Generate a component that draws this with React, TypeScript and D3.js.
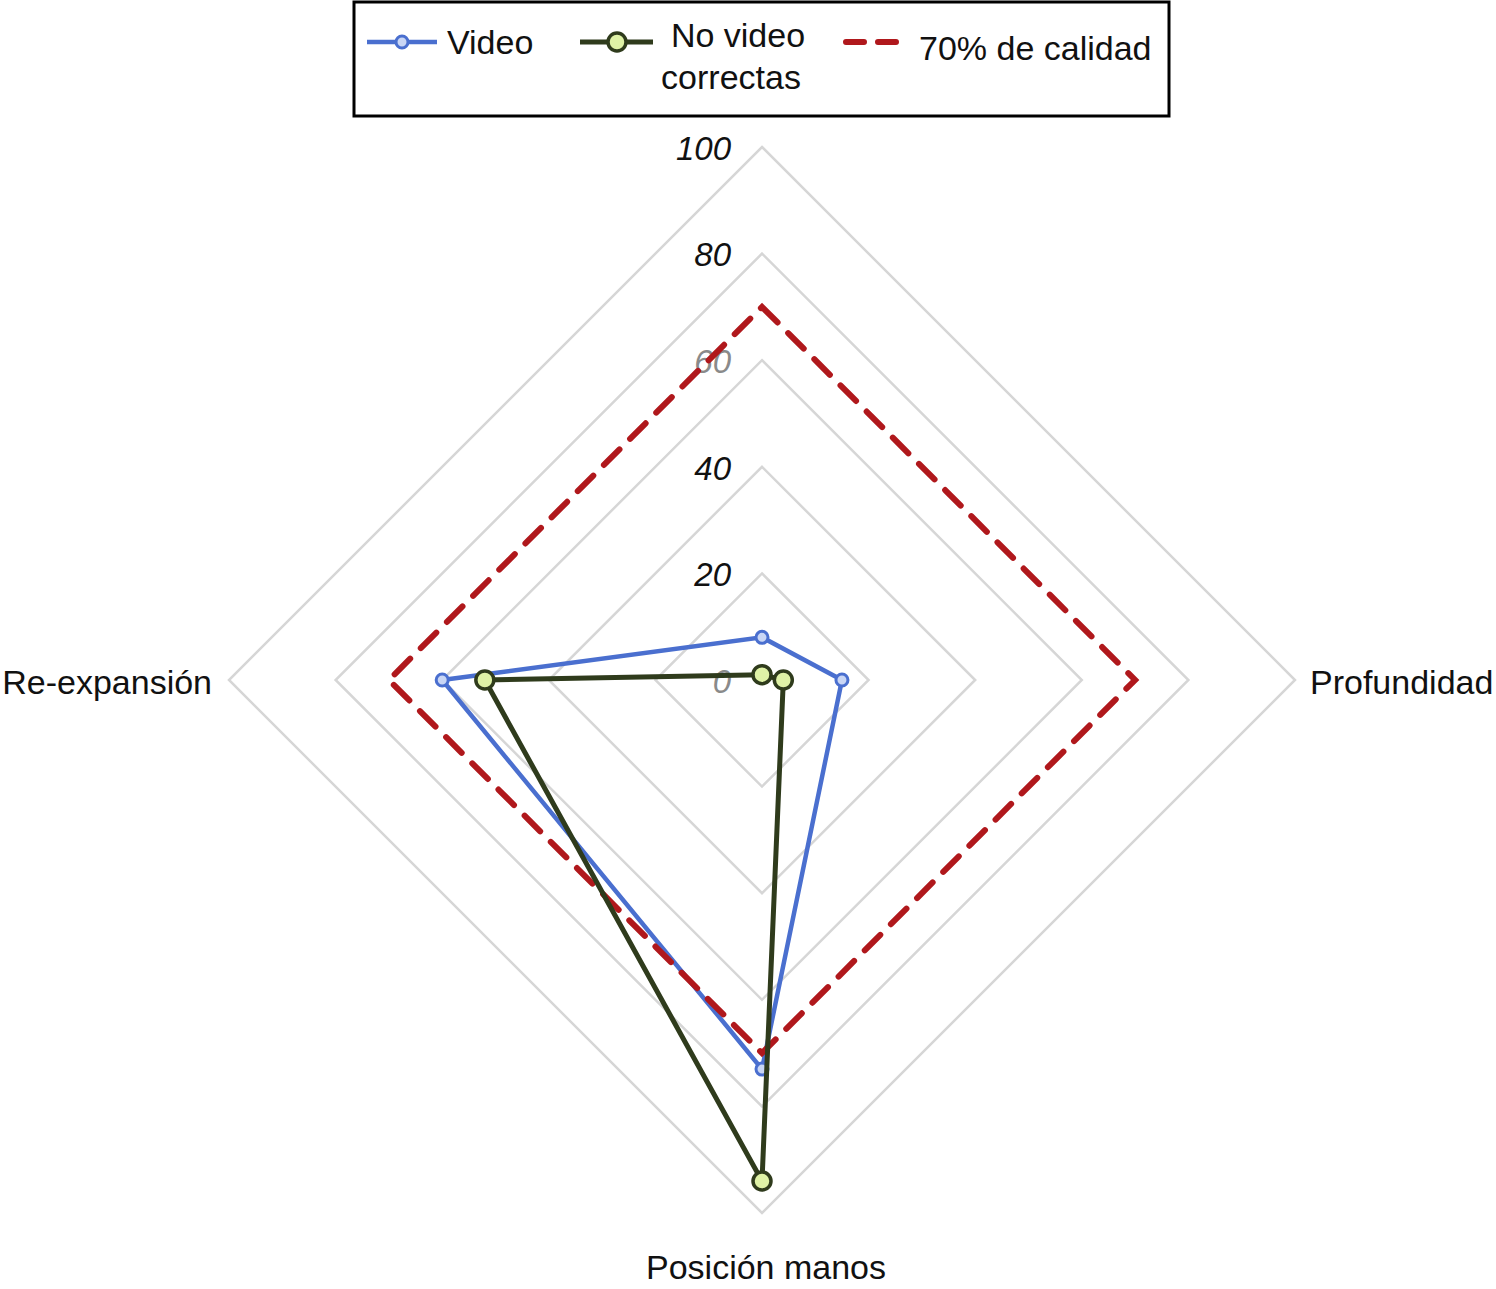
import * as d3 from 'd3';
import { useEffect, useRef } from 'react';

// axes clockwise from the top
const axes = ['', 'Profundidad', 'Posición manos', 'Re-expansión'];
const videoValues = [8, 15, 73, 60];
const noVideoValues = [1, 4, 94, 52];
const thresholdValues = [70, 70, 70, 70];
const levels = [20, 40, 60, 80, 100];
const tickLabels = [0, 20, 40, 60, 80, 100];

const W = 1496;
const H = 1289;
const cx = 762;
const cy = 680;
const R = 533;
const FONT = '"Liberation Sans", Arial, Helvetica, sans-serif';

const App = () => {
  const ref = useRef<SVGSVGElement | null>(null);

  useEffect(() => {
    if (!ref.current) return;
    const svg = d3.select(ref.current);
    svg.selectAll('*').remove();

    const r = d3.scaleLinear().domain([0, 100]).range([0, R]);
    const angle = (i: number) => (i / axes.length) * 2 * Math.PI;
    const pt = (v: number, i: number): [number, number] => [
      cx + r(v) * Math.sin(angle(i)),
      cy - r(v) * Math.cos(angle(i))
    ];
    const line = d3.line<[number, number]>().curve(d3.curveLinearClosed);

    const g = svg.append('g');

    // grid
    levels.forEach(l => {
      g.append('path')
        .attr('d', line(axes.map((_, i) => pt(l, i))))
        .attr('fill', 'none')
        .attr('stroke', '#d6d6d6')
        .attr('stroke-width', 2.5);
    });

    // tick labels
    tickLabels.forEach(t => {
      g.append('text')
        .attr('x', cx - 31)
        .attr('y', cy - r(t) + 4)
        .attr('text-anchor', 'end')
        .attr('dominant-baseline', 'middle')
        .attr('font-family', FONT)
        .attr('font-style', 'italic')
        .attr('font-size', 33)
        .attr('fill', t === 0 || t === 60 ? '#8a8a8a' : '#111')
        .text(t);
    });

    // category labels
    const labelPos = [
      { x: cx, y: cy - R - 30, anchor: 'middle' },
      { x: 1310, y: cy + 5, anchor: 'start' },
      { x: 766, y: 1270, anchor: 'middle' },
      { x: 212, y: cy + 5, anchor: 'end' }
    ];
    axes.forEach((a, i) => {
      if (!a) return;
      g.append('text')
        .attr('x', labelPos[i].x)
        .attr('y', labelPos[i].y)
        .attr('text-anchor', labelPos[i].anchor)
        .attr('dominant-baseline', 'middle')
        .attr('font-family', FONT)
        .attr('font-size', 34)
        .attr('fill', '#111')
        .text(a);
    });

    const blue = '#4a6fcf';
    const green = '#2f3b1c';
    const red = '#b0181c';

    // video series
    const vPts = videoValues.map((v, i) => pt(v, i));
    g.append('path')
      .attr('d', line(vPts))
      .attr('fill', 'none')
      .attr('stroke', blue)
      .attr('stroke-width', 4.5);
    g.selectAll('.vdot')
      .data(vPts)
      .enter()
      .append('circle')
      .attr('cx', d => d[0])
      .attr('cy', d => d[1])
      .attr('r', 6)
      .attr('fill', '#c9d6f5')
      .attr('stroke', blue)
      .attr('stroke-width', 3);

    // 70% threshold
    g.append('path')
      .attr('d', line(thresholdValues.map((v, i) => pt(v, i))))
      .attr('fill', 'none')
      .attr('stroke', red)
      .attr('stroke-width', 6)
      .attr('stroke-dasharray', '22 15')
      .attr('stroke-linecap', 'round');

    // no video series
    const nPts = noVideoValues.map((v, i) => pt(v, i));
    g.append('path')
      .attr('d', line(nPts))
      .attr('fill', 'none')
      .attr('stroke', green)
      .attr('stroke-width', 5);
    g.selectAll('.ndot')
      .data(nPts)
      .enter()
      .append('circle')
      .attr('cx', d => d[0])
      .attr('cy', d => d[1])
      .attr('r', 9)
      .attr('fill', '#dff2a6')
      .attr('stroke', green)
      .attr('stroke-width', 3.5);

    // legend
    const lg = svg.append('g');
    lg.append('rect')
      .attr('x', 354)
      .attr('y', 2)
      .attr('width', 815)
      .attr('height', 114)
      .attr('fill', '#fff')
      .attr('stroke', '#000')
      .attr('stroke-width', 3);

    lg.append('line')
      .attr('x1', 367).attr('x2', 437).attr('y1', 42).attr('y2', 42)
      .attr('stroke', blue).attr('stroke-width', 4.5);
    lg.append('circle')
      .attr('cx', 402).attr('cy', 42).attr('r', 6)
      .attr('fill', '#c9d6f5').attr('stroke', blue).attr('stroke-width', 3);
    lg.append('text')
      .attr('x', 447).attr('y', 45)
      .attr('dominant-baseline', 'middle')
      .attr('font-family', FONT).attr('font-size', 34).attr('fill', '#111')
      .text('Video');

    lg.append('line')
      .attr('x1', 580).attr('x2', 653).attr('y1', 42).attr('y2', 42)
      .attr('stroke', green).attr('stroke-width', 5);
    lg.append('circle')
      .attr('cx', 617).attr('cy', 42).attr('r', 9)
      .attr('fill', '#dff2a6').attr('stroke', green).attr('stroke-width', 3.5);
    lg.append('text')
      .attr('x', 738).attr('y', 38)
      .attr('text-anchor', 'middle')
      .attr('dominant-baseline', 'middle')
      .attr('font-family', FONT).attr('font-size', 34).attr('fill', '#111')
      .text('No video');
    lg.append('text')
      .attr('x', 731).attr('y', 80)
      .attr('text-anchor', 'middle')
      .attr('dominant-baseline', 'middle')
      .attr('font-family', FONT).attr('font-size', 34).attr('fill', '#111')
      .text('correctas');

    lg.append('line')
      .attr('x1', 846).attr('x2', 904).attr('y1', 42).attr('y2', 42)
      .attr('stroke', red).attr('stroke-width', 6)
      .attr('stroke-dasharray', '18 14')
      .attr('stroke-linecap', 'round');
    lg.append('text')
      .attr('x', 919).attr('y', 51)
      .attr('dominant-baseline', 'middle')
      .attr('font-family', FONT).attr('font-size', 34).attr('fill', '#111')
      .text('70% de calidad');
  }, []);

  return (
    <svg
      ref={ref}
      width={W}
      height={H}
      style={{ position: 'absolute', left: 0, top: 0, background: '#fff' }}
    />
  );
};

export default App;
